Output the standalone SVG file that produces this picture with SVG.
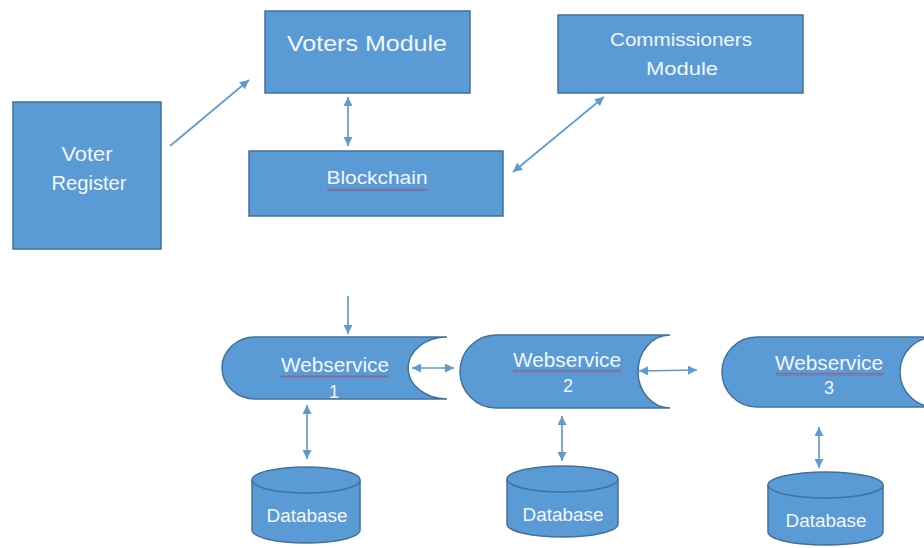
<svg xmlns="http://www.w3.org/2000/svg" width="924" height="548" viewBox="0 0 924 548">
<defs>
<style>
.box{fill:#5b9bd5;stroke:#41719c;stroke-width:1.5}
.t{font-family:"Liberation Sans",Arial,sans-serif;fill:#f2f6fb;text-anchor:middle}
.c{stroke:#5e9bd3;stroke-width:1.7;fill:none}
</style>
<marker id="ah" viewBox="0 0 10 10" refX="10" refY="5" markerUnits="userSpaceOnUse" markerWidth="10" markerHeight="9" orient="auto-start-reverse">
<path d="M0,0 L10,5 L0,10 Z" fill="#5e9bd3"/>
</marker>
<pattern id="sq" width="4" height="3" patternUnits="userSpaceOnUse">
<path d="M0,2.5 L1,0.5 L2,2.5 L3,0.5 L4,2.5" stroke="#a05070" stroke-width="0.7" fill="none"/>
</pattern>
</defs>
<rect width="924" height="548" fill="#ffffff"/>

<g id="voter-register">
<rect class="box" x="13" y="102" width="148" height="147"/>
<text class="t" x="87" y="161" font-size="20" textLength="51" lengthAdjust="spacingAndGlyphs">Voter</text>
<text class="t" x="89" y="190" font-size="20" textLength="75" lengthAdjust="spacingAndGlyphs">Register</text>
</g>

<g id="voters-module">
<rect class="box" x="265" y="11" width="205" height="82"/>
<text class="t" x="367" y="51" font-size="22" textLength="160" lengthAdjust="spacingAndGlyphs">Voters Module</text>
</g>

<g id="commissioners-module">
<rect class="box" x="558" y="15" width="245" height="78"/>
<text class="t" x="681" y="46" font-size="19" textLength="142" lengthAdjust="spacingAndGlyphs">Commissioners</text>
<text class="t" x="682" y="75" font-size="19" textLength="72" lengthAdjust="spacingAndGlyphs">Module</text>
</g>

<g id="blockchain">
<rect class="box" x="249" y="151" width="254" height="65"/>
<text class="t" x="377" y="184" font-size="19" textLength="101" lengthAdjust="spacingAndGlyphs">Blockchain</text>
<rect x="327" y="188" width="101" height="3" fill="url(#sq)"/>
</g>

<g id="webservice-1">
<path class="box" d="M255,337 L447,337 A39,31 0 0 0 447,399 L255,399 A33,31 0 0 1 255,337 Z"/>
<text class="t" x="335" y="372" font-size="20" textLength="108" lengthAdjust="spacingAndGlyphs">Webservice</text>
<rect x="281" y="375" width="108" height="3" fill="url(#sq)"/>
<text class="t" x="334" y="398" font-size="18">1</text>
</g>

<g id="webservice-2">
<path class="box" d="M496,335 L670,335 A32,36.5 0 0 0 670,408 L496,408 A36,36.5 0 0 1 496,335 Z"/>
<text class="t" x="567" y="367" font-size="20" textLength="108" lengthAdjust="spacingAndGlyphs">Webservice</text>
<rect x="513" y="370" width="108" height="3" fill="url(#sq)"/>
<text class="t" x="568" y="392" font-size="18">2</text>
</g>

<g id="webservice-3">
<path class="box" d="M757,337 L935,337 A35,35 0 0 0 935,407 L757,407 A35,35 0 0 1 757,337 Z"/>
<text class="t" x="829" y="370" font-size="20" textLength="108" lengthAdjust="spacingAndGlyphs">Webservice</text>
<rect x="776" y="373" width="108" height="3" fill="url(#sq)"/>
<text class="t" x="829" y="394" font-size="18">3</text>
</g>

<g id="database-1">
<path class="box" d="M252,480 A54,13 0 0 1 360,480 L360,530 A54,13 0 0 1 252,530 Z"/>
<path class="box" d="M252,480 A54,13 0 0 0 360,480"/>
<text class="t" x="307" y="522" font-size="18" textLength="81" lengthAdjust="spacingAndGlyphs">Database</text>
</g>

<g id="database-2">
<path class="box" d="M507,479 A55.5,13 0 0 1 618,479 L618,524 A55.5,13 0 0 1 507,524 Z"/>
<path class="box" d="M507,479 A55.5,13 0 0 0 618,479"/>
<text class="t" x="563" y="521" font-size="18" textLength="81" lengthAdjust="spacingAndGlyphs">Database</text>
</g>

<g id="database-3">
<path class="box" d="M768,485 A57.5,13 0 0 1 883,485 L883,532 A57.5,13 0 0 1 768,532 Z"/>
<path class="box" d="M768,485 A57.5,13 0 0 0 883,485"/>
<text class="t" x="826" y="527" font-size="18" textLength="81" lengthAdjust="spacingAndGlyphs">Database</text>
</g>

<g id="connectors">
<line class="c" x1="170" y1="146" x2="249" y2="80" marker-end="url(#ah)"/>
<line class="c" x1="348" y1="97" x2="348" y2="146" marker-start="url(#ah)" marker-end="url(#ah)"/>
<line class="c" x1="513" y1="172" x2="604" y2="97" marker-start="url(#ah)" marker-end="url(#ah)"/>
<line class="c" x1="348" y1="296" x2="348" y2="334" marker-end="url(#ah)"/>
<line class="c" x1="412" y1="368" x2="454" y2="368" marker-start="url(#ah)" marker-end="url(#ah)"/>
<line class="c" x1="639" y1="371" x2="697" y2="370" marker-start="url(#ah)" marker-end="url(#ah)"/>
<line class="c" x1="307" y1="405" x2="307" y2="459" marker-start="url(#ah)" marker-end="url(#ah)"/>
<line class="c" x1="562" y1="416" x2="562" y2="461" marker-start="url(#ah)" marker-end="url(#ah)"/>
<line class="c" x1="819" y1="427" x2="819" y2="468" marker-start="url(#ah)" marker-end="url(#ah)"/>
</g>
</svg>
